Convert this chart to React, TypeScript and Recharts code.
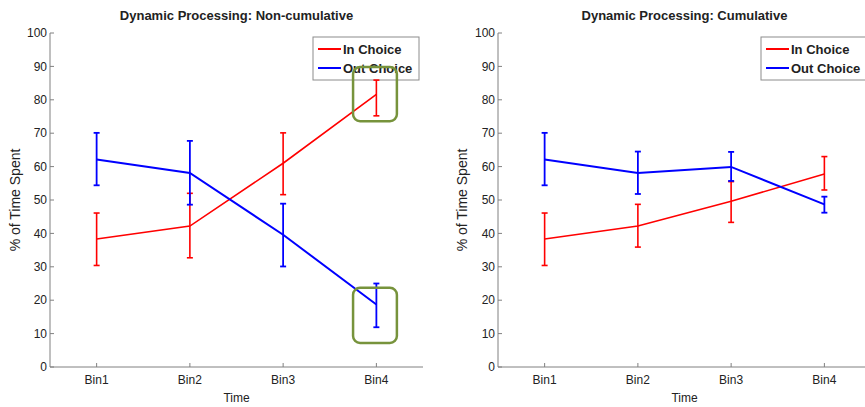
import {
  ComposedChart,
  Line,
  XAxis,
  YAxis,
  ErrorBar,
  ReferenceArea,
  Customized,
  Label,
} from "recharts";

const bins = ["Bin1", "Bin2", "Bin3", "Bin4"];
const binPos = [1, 2, 3, 4];
const yTicks = [0, 10, 20, 30, 40, 50, 60, 70, 80, 90, 100];

// Non-cumulative: mean, lower and upper end of the error bar
const inNonCumMean = [38.3, 42.2, 61.0, 81.6];
const inNonCumLow = [30.4, 32.7, 51.6, 75.2];
const inNonCumHigh = [46.1, 52.0, 70.1, 85.9];
const outNonCumMean = [62.1, 58.1, 39.6, 18.7];
const outNonCumLow = [54.4, 48.6, 30.1, 11.9];
const outNonCumHigh = [70.1, 67.7, 48.9, 25.0];

// Cumulative
const inCumMean = [38.3, 42.2, 49.6, 57.8];
const inCumLow = [30.4, 35.9, 43.3, 53.0];
const inCumHigh = [46.1, 48.7, 55.5, 63.0];
const outCumMean = [62.1, 58.1, 59.9, 48.7];
const outCumLow = [54.4, 51.8, 55.7, 46.2];
const outCumHigh = [70.1, 64.5, 64.4, 51.0];

// green highlight boxes on the non-cumulative plot (data coords)
const highlightBoxes = [
  { x1: 3.75, x2: 4.22, y1: 73.6, y2: 89.8 },
  { x1: 3.75, x2: 4.22, y1: 7.2, y2: 23.7 },
];

const AXIS = "#808080";
const TEXT = "#222";
const FONT = "'Liberation Sans', Arial, Helvetica, sans-serif";

function buildRows(
  inMean: number[], inLow: number[], inHigh: number[],
  outMean: number[], outLow: number[], outHigh: number[]
) {
  return binPos.map((x, i) => ({
    x,
    inChoice: inMean[i],
    inErr: [inMean[i] - inLow[i], inHigh[i] - inMean[i]],
    outChoice: outMean[i],
    outErr: [outMean[i] - outLow[i], outHigh[i] - outMean[i]],
  }));
}

function RoundedBox(props: any) {
  const { x, y, width, height } = props;
  return (
    <rect x={x} y={y} width={width} height={height} rx={7} ry={7}
      fill="none" stroke="#77933c" strokeWidth={2.5} />
  );
}

function LegendBox({ x, y, width }: { x: number; y: number; width: number }) {
  return (
    <g style={{ fontFamily: FONT }}>
      <rect x={x} y={y} width={width} height={43} fill="#fff" stroke="#8c8c8c" />
      <line x1={x + 5} x2={x + 28} y1={y + 12} y2={y + 12} stroke="#ff0000" strokeWidth={2} />
      <text x={x + 30} y={y + 16.5} fontSize={13} fontWeight="bold" fill={TEXT}>In Choice</text>
      <line x1={x + 5} x2={x + 28} y1={y + 31} y2={y + 31} stroke="#0000ff" strokeWidth={2} />
      <text x={x + 30} y={y + 35.5} fontSize={13} fontWeight="bold" fill={TEXT}>Out Choice</text>
    </g>
  );
}

function Panel({ rows, left, labelOffset, boxes }: {
  rows: ReturnType<typeof buildRows>;
  left: number;
  labelOffset: number;
  boxes: typeof highlightBoxes;
}) {
  return (
    <div style={{ position: "absolute", left, top: 0 }}>
      <ComposedChart width={430} height={407} data={rows}
        margin={{ top: 33, right: 7, bottom: 0, left: 0 }} style={{ fontFamily: FONT }}>
        <XAxis xAxisId="top" orientation="top" dataKey="x" type="number" domain={[0.5, 4.5]}
          ticks={binPos} height={0} tickFormatter={() => ""} tickSize={-4}
          axisLine={{ stroke: AXIS }} tickLine={{ stroke: AXIS }} />
        <XAxis dataKey="x" type="number" domain={[0.5, 4.5]} ticks={binPos} height={40}
          tickFormatter={(v: number) => bins[v - 1]} tickSize={-4} tickMargin={12}
          tick={{ fontSize: 12, fill: TEXT }} axisLine={{ stroke: AXIS }} tickLine={{ stroke: AXIS }}>
          <Label value="Time" position="insideBottom" offset={5} fontSize={12} fill={TEXT} />
        </XAxis>
        <YAxis domain={[0, 100]} ticks={yTicks} interval={0} width={50} tickSize={-4} tickMargin={7}
          tick={{ fontSize: 12, fill: TEXT }} axisLine={{ stroke: AXIS }} tickLine={{ stroke: AXIS }}>
          <Label value="% of Time Spent" angle={-90} position="insideLeft" offset={labelOffset}
            fontSize={14} fill={TEXT} style={{ textAnchor: "middle" }} />
        </YAxis>
        <YAxis yAxisId="right" orientation="right" domain={[0, 100]} ticks={yTicks} interval={0}
          width={0} tickFormatter={() => ""} tickSize={-4}
          axisLine={{ stroke: AXIS }} tickLine={{ stroke: AXIS }} />
        <Line dataKey="inChoice" stroke="#ff0000" strokeWidth={1.6} dot={false}
          isAnimationActive={false}>
          <ErrorBar dataKey="inErr" direction="y" width={3} stroke="#ff0000" strokeWidth={1.6}
            isAnimationActive={false} />
        </Line>
        <Line dataKey="outChoice" stroke="#0000ff" strokeWidth={2} dot={false}
          isAnimationActive={false}>
          <ErrorBar dataKey="outErr" direction="y" width={3} stroke="#0000ff" strokeWidth={1.8}
            isAnimationActive={false} />
        </Line>
        <Customized component={<LegendBox x={313} y={37} width={106} />} />
        {boxes.map((b, i) => (
          <ReferenceArea key={i} x1={b.x1} x2={b.x2} y1={b.y1} y2={b.y2} ifOverflow="visible"
            shape={<RoundedBox />} zIndex={2000} />
        ))}
      </ComposedChart>
    </div>
  );
}

const titleStyle = {
  position: "absolute" as const,
  top: 8,
  width: 373,
  textAlign: "center" as const,
  fontFamily: FONT,
  fontWeight: "bold" as const,
  fontSize: 13,
  lineHeight: "15px",
  color: TEXT,
};

export default function App() {
  const nonCum = buildRows(inNonCumMean, inNonCumLow, inNonCumHigh, outNonCumMean, outNonCumLow, outNonCumHigh);
  const cum = buildRows(inCumMean, inCumLow, inCumHigh, outCumMean, outCumLow, outCumHigh);
  return (
    <div style={{ position: "absolute", left: 0, top: 0, width: 865, height: 407, overflow: "hidden", background: "#fff" }}>
      <Panel rows={nonCum} left={0} labelOffset={15} boxes={highlightBoxes} />
      <Panel rows={cum} left={448} labelOffset={14} boxes={[]} />
      <div style={{ ...titleStyle, left: 50 }}>Dynamic Processing: Non-cumulative</div>
      <div style={{ ...titleStyle, left: 498 }}>Dynamic Processing: Cumulative</div>
    </div>
  );
}
